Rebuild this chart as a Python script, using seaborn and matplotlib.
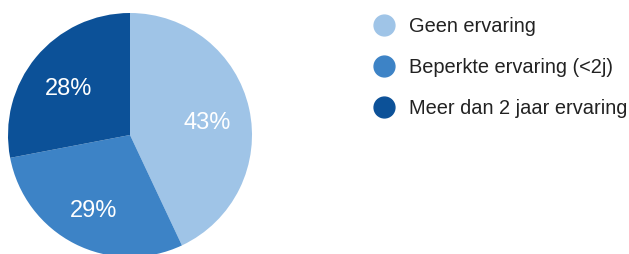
import matplotlib
matplotlib.use("Agg")
import matplotlib.pyplot as plt
import matplotlib.transforms as mtransforms
from matplotlib.lines import Line2D
import seaborn as sns

# data
categorieen = ["Geen ervaring", "Beperkte ervaring (<2j)", "Meer dan 2 jaar ervaring"]
aandelen = [43, 29, 28]
kleuren = ["#9fc4e7", "#3d83c6", "#0c5198"]

sns.set_theme(style="white")
plt.rcParams["font.family"] = ["Liberation Sans", "DejaVu Sans"]

fig = plt.figure(figsize=(6.29, 2.54), dpi=100)
# pie axes: center approx (130,135) px, radius ~122 px
ax = fig.add_axes([8 / 629, (254 - 257) / 254, 244 / 629, 244 / 254])
wedges, texts, autotexts = ax.pie(
    aandelen, colors=kleuren, startangle=90, counterclock=False,
    autopct="%d%%", pctdistance=0.65, radius=1,
    wedgeprops=dict(linewidth=0),
    textprops=dict(color="white", fontsize=17),
)
# labels staan iets lager in het origineel
for t in autotexts:
    t.set_transform(mtransforms.offset_copy(ax.transData, fig=fig, x=0, y=-5, units="dots"))
ax.set_xlim(-1, 1)
ax.set_ylim(-1, 1)
ax.set_aspect("equal")
ax.axis("off")

handles = [Line2D([], [], marker="o", linestyle="", markersize=15,
                  markerfacecolor=c, markeredgecolor=c) for c in kleuren]
fig.legend(handles, categorieen, loc="upper left",
           bbox_to_anchor=(373 / 629, 1 - 17 / 254), frameon=False,
           fontsize=14.4, labelspacing=1.1, handletextpad=0.7,
           handlelength=1.1, borderpad=0, borderaxespad=0,
           labelcolor="#222222")

fig.savefig("out.png", dpi=100)
